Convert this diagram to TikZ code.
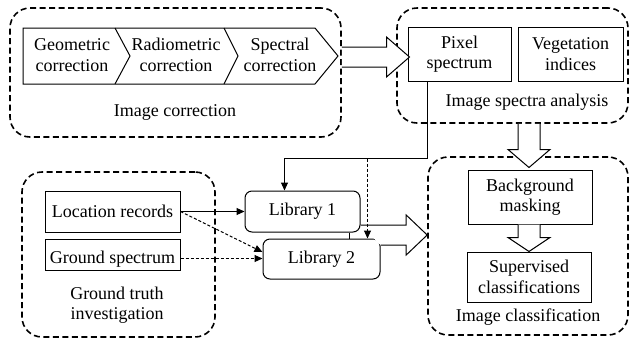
\documentclass[tikz,border=0pt]{standalone}
\usepackage{fontspec}
\setmainfont{Liberation Serif}
\usetikzlibrary{calc,arrows.meta}
\tikzset{
  grp/.style={draw, line width=1.6pt, dash pattern=on 6pt off 3.5pt, rounded corners=20pt, inner sep=0pt},
  box/.style={draw, line width=1pt, align=center, inner sep=0pt},
  libbox/.style={box, rounded corners=7pt},
  lbl/.style={align=center, inner sep=0pt},
  conn/.style={line width=1pt, -{Triangle[length=8pt,width=7pt]}},
  dconn/.style={conn, dash pattern=on 3pt off 2pt},
  hollow/.style={draw, line width=1pt, fill=white, line join=miter},
}
% right-pointing hollow arrow: #1 start of upper edge, #2 start of lower edge, #3 tip, #4 head length
\newcommand\myrarrow[4]{%
  \path[hollow] let \p1=(#1), \p2=(#2), \p3=(#3) in
    (\x1,\y3+10pt) -- (\x3-#4,\y3+10pt) -- (\x3-#4,\y3+20pt) -- (\x3,\y3)
    -- (\x3-#4,\y3-20pt) -- (\x3-#4,\y3-10pt) -- (\x2,\y3-10pt);}
% down-pointing hollow arrow: #1 start, #2 tip, #3 head length
\newcommand\mydarrow[3]{%
  \path[hollow] let \p1=(#1), \p2=(#2) in
    (\x2-11pt,\y1) -- (\x2-11pt,\y2+#3) -- (\x2-21pt,\y2+#3) -- (\x2,\y2)
    -- (\x2+21pt,\y2+#3) -- (\x2+11pt,\y2+#3) -- (\x2+11pt,\y1);}
\begin{document}
\begin{tikzpicture}[x=1pt,y=-1pt,font=\fontsize{18}{20.5}\selectfont]
\useasboundingbox (0,0) rectangle (630,341);

% groups
\node[grp, minimum width=331pt, minimum height=129pt] (gIC) at (175.5,72.5) {};
\node[grp, minimum width=231pt, minimum height=115pt] (gSA) at (512.5,65.5) {};
\node[grp, minimum width=193pt, minimum height=165pt] (gGT) at (118.5,254.5) {};
\node[grp, minimum width=200pt, minimum height=178pt] (gCL) at (528,246) {};

% group labels
\node[lbl] (lIC) at (175,112) {Image correction};
\node[lbl] (lSA) at (527,102) {Image spectra analysis};
\node[lbl] (lGT) at (117,305) {Ground truth\\investigation};
\node[lbl] (lCL) at (528,317) {Image classification};

% chevron row
\draw[line width=1pt, line join=miter] (23,28) -- (315,28) -- (338,56) -- (315,84) -- (23,84) -- cycle;
\draw[line width=1pt, line join=miter] (115,28) -- (130,56) -- (115,84);
\draw[line width=1pt, line join=miter] (224,28) -- (238,56) -- (224,84);
\node[lbl] (geo) at (72,55) {Geometric\\correction};
\node[lbl] (rad) at (176,55) {Radiometric\\correction};
\node[lbl] (spe) at (280,55) {Spectral\\correction};

% boxes
\node[box, minimum width=103pt, minimum height=54pt] (pix) at (459.5,54) {Pixel\\spectrum};
\node[box, minimum width=105pt, minimum height=54pt] (veg) at (570.5,54) {Vegetation\\indices};
\node[box, minimum width=135pt, minimum height=41pt] (loc) at (112.5,211.5) {Location records};
\node[box, minimum width=135pt, minimum height=31pt, text height=17pt, text depth=0pt] (gsp) at (112.5,254.5) {Ground spectrum};
\node[libbox, minimum width=115pt, minimum height=41pt] (lib1) at (302.5,211.5) {Library 1};
\node[libbox, minimum width=117pt, minimum height=40pt] (lib2) at (321.5,259) {Library 2};
\node[box, minimum width=124pt, minimum height=54pt] (bm) at (530,197) {Background\\masking};
\node[box, minimum width=124pt, minimum height=50pt] (sc) at (529,277) {Supervised\\classifications};

% hollow arrows
\myrarrow{gIC.east}{gIC.east}{$(pix.west)+(2,3)$}{23pt}
\myrarrow{lib1.east}{lib2.east}{$(gCL.west)+(0,-11)$}{21pt}
\mydarrow{gSA.south}{$(bm.north)+(-1,-2)$}{18pt}
\mydarrow{bm.south}{$(sc.north)+(0,0)$}{14pt}

% connectors
\coordinate (pixout) at ($(pix.south west)+(20,0)$);
\coordinate (bend) at ($(pixout)+(0,77)$);
\coordinate (lib1in) at ($(lib1.north west)+(40,0)$);
\coordinate (lib2in) at ($(lib2.north west)+(105,0)$);
\coordinate (link) at ($(lib1.south west)+(105,0)$);
\coordinate (gspout) at ($(gsp.east)+(0,4)$);
\draw[conn] (pixout) -- (bend) -| (lib1in);
\draw[dconn] (bend -| lib2in) -- (lib2in);
\draw[line width=1pt] (link) -- (link |- lib2.north);
\draw[conn] (loc.east) -- (lib1.west);
\draw[dconn] (loc.east) -- ($(lib2.north west)!0.33!(lib2.south west)$);
\draw[dconn] (gspout) -- (gspout -| lib2.west);
\end{tikzpicture}
\end{document}
